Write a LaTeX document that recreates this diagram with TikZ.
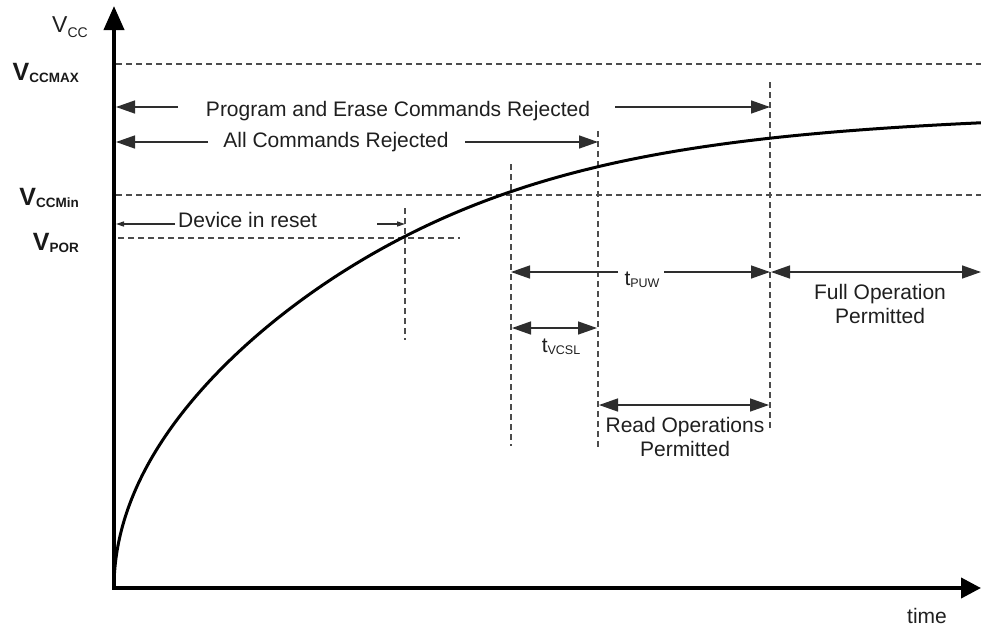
\documentclass[tikz,border=0pt]{standalone}
\usepackage{fontspec}
\setmainfont{Liberation Sans}
\usetikzlibrary{arrows.meta}
\newcommand{\sbs}[2][-2pt]{\raisebox{#1}{\fontsize{12.5}{13}\selectfont #2}}
\newcommand{\bsbs}[2][-2pt]{\raisebox{#1}{\fontsize{13.5}{14}\selectfont\bfseries #2}}
\begin{document}
\begin{tikzpicture}[x=1pt,y=-1pt,
  txt/.style={font=\fontsize{21}{24}\selectfont, text=black!88, inner sep=0pt},
  lbl/.style={font=\fontsize{25}{26}\selectfont\bfseries, text=black!90, inner sep=0pt, anchor=base east},
  axisline/.style={line width=4pt, draw=black, {Triangle[length=24pt,width=20pt]}-{Triangle[length=20pt,width=20pt]}},
  dim/.style={line width=1.4pt, draw=black!82},
  tipr/.style={-{Triangle[length=19pt,width=13pt]}},
  tipb/.style={{Triangle[length=19pt,width=13pt]}-{Triangle[length=19pt,width=13pt]}},
  smalltip/.style={-{Triangle[length=8pt,width=5pt]}},
  guide/.style={line width=1.2pt, draw=black!70, dash pattern=on 6pt off 4pt},
  curve/.style={line width=3pt, draw=black}
]
\useasboundingbox (0,0) rectangle (981,627);

% axes
\coordinate (O) at (114,588);
\coordinate (ytop) at (114,6);
\coordinate (xend) at (981,588);
\draw[axisline] (ytop) -- (O) -- (xend);

% level guides
\coordinate (maxL) at (116,64);  \coordinate (maxR) at (981,64);
\coordinate (minL) at (116,195); \coordinate (minR) at (981,195);
\coordinate (porL) at (118,238); \coordinate (porR) at (460,238);
\draw[guide] (maxL) -- (maxR);
\draw[guide] (minL) -- (minR);
\draw[guide] (porL) -- (porR);

% vertical guides
\coordinate (v1t) at (405,208); \coordinate (v1b) at (405,340);
\coordinate (v2t) at (511,164); \coordinate (v2b) at (511,446);
\coordinate (v3t) at (598,131); \coordinate (v3b) at (598,447);
\coordinate (v4t) at (770,82);  \coordinate (v4b) at (770,430);
\draw[guide] (v1t) -- (v1b);
\draw[guide] (v2t) -- (v2b);
\draw[guide] (v3t) -- (v3b);
\draw[guide] (v4t) -- (v4b);

% curve: h = c*sqrt(t) softly clamped at A
\draw[curve, line join=round] plot[smooth, domain=0:29.445, samples=120, variable=\u]
  ({114+\u*\u}, {588 - 21.2*\u/pow(1+pow(21.2*\u/480,6),1/6)});

% axis labels
\node[txt, font=\fontsize{23}{24}\selectfont, anchor=base west] (vcc) at (52,32) {V\raisebox{-5.5pt}{\fontsize{14}{14}\selectfont CC}};
\node[txt, anchor=base] (time) at (927,623) {time};
\node[lbl] (vmax) at (79,80) {V\bsbs{CCMAX}};
\node[lbl] (vmin) at (79,205) {V\bsbs{CCMin}};
\node[lbl] (vpor) at (79,250) {V\bsbs{POR}};

% Program and Erase Commands Rejected
\node[txt, anchor=base] (pe) at (398,116) {Program and Erase Commands Rejected};
\coordinate (peL) at (116,107); \coordinate (peA) at (178,107);
\coordinate (peB) at (615,107); \coordinate (peR) at (770,107);
\draw[dim, tipr] (peA) -- (peL);
\draw[dim, tipr] (peB) -- (peR);

% All Commands Rejected
\node[txt, anchor=base] (acr) at (336,147) {All Commands Rejected};
\coordinate (acL) at (116,142); \coordinate (acA) at (208,142);
\coordinate (acB) at (465,142); \coordinate (acR) at (598,142);
\draw[dim, tipr] (acA) -- (acL);
\draw[dim, tipr] (acB) -- (acR);

% Device in reset
\node[txt, anchor=base west] (dir) at (178,227) {Device in reset};
\coordinate (drL) at (116,224); \coordinate (drA) at (175,224);
\coordinate (drB) at (377,224); \coordinate (drR) at (405,224);
\draw[dim, smalltip] (drA) -- (drL);
\draw[dim, smalltip] (drB) -- (drR);

% tPUW
\node[txt, anchor=base] (tpuw) at (642,285) {t\sbs{PUW}};
\coordinate (puL) at (511,272); \coordinate (puA) at (618,272);
\coordinate (puB) at (664,272); \coordinate (puR) at (770,272);
\draw[dim, tipr] (puA) -- (puL);
\draw[dim, tipr] (puB) -- (puR);

% Full operation permitted
\coordinate (foL) at (771,272); \coordinate (foR) at (981,272);
\draw[dim, tipb] (foL) -- (foR);
\node[txt, align=center] (fop) at (880,304) {Full Operation\\Permitted};

% tVCSL
\coordinate (vcL) at (512,328); \coordinate (vcR) at (597,328);
\draw[dim, tipb] (vcL) -- (vcR);
\node[txt, anchor=base] (tvcsl) at (561,352) {t\sbs{VCSL}};

% Read operations permitted
\coordinate (roL) at (599,405); \coordinate (roR) at (769,405);
\draw[dim, tipb] (roL) -- (roR);
\node[txt, align=center] (rop) at (685,437) {Read Operations\\Permitted};
\end{tikzpicture}
\end{document}
